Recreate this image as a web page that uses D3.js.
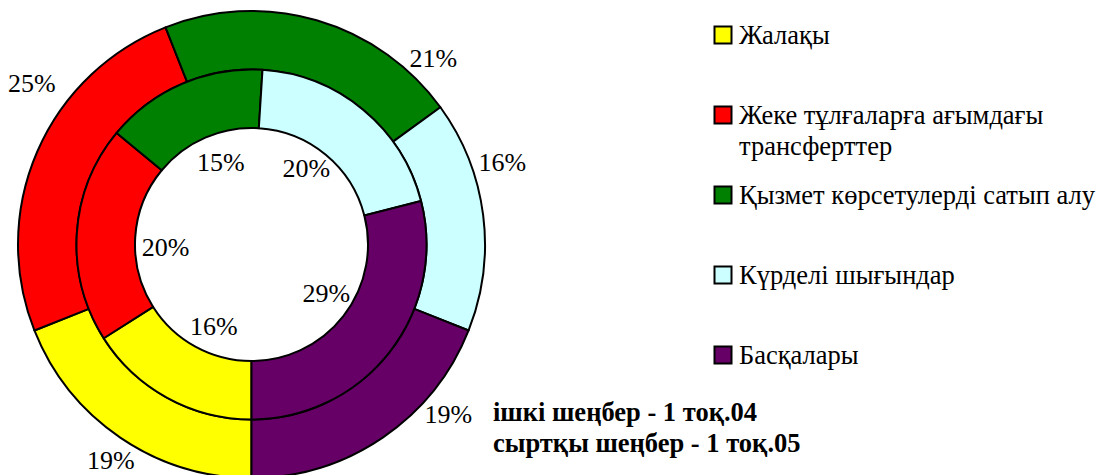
<!DOCTYPE html>
<html>
<head>
<meta charset="utf-8">
<script src="https://cdn.jsdelivr.net/npm/d3@7"></script>
<style>
  body { margin: 0; background: #fff; }
</style>
</head>
<body>
<div id="chart"></div>
<script>
// categories (legend order, clockwise from 6 o'clock)
var categories = [
  ["Жалақы"],
  ["Жеке тұлғаларға ағымдағы", "трансферттер"],
  ["Қызмет көрсетулерді сатып алу"],
  ["Күрделі шығындар"],
  ["Басқалары"]
];
// inner ring - 1 тоқ.04, outer ring - 1 тоқ.05 (percent)
var innerValues = [16, 20, 15, 20, 29];
var outerValues = [19, 25, 21, 16, 19];
var colors = ["#ffff00", "#ff0000", "#008000", "#ccffff", "#660066"];
var notes = ["ішкі шеңбер - 1 тоқ.04", "сыртқы шеңбер - 1 тоқ.05"];

// label nudges (degrees) to sit where the original chart put them
var outerLabelShift = [-1, 13, 28, -11, -15];
var innerLabelShift = [-4, -5, 3, -4, -5];

var svgWidth = 1098;
var svgHeight = 475;
var serif = "Liberation Serif";

var cx = 251.5, cy = 244.5;
var rOuter = 233.5, rMid = 175, rInner = 116.5;

var svg = d3.select("#chart")
  .append("svg")
  .attr("width", svgWidth)
  .attr("height", svgHeight);

var chartGroup = svg.append("g")
  .attr("transform", `translate(${cx}, ${cy})`);

var pie = d3.pie()
  .sort(null)
  .startAngle(Math.PI)
  .endAngle(3 * Math.PI);

var outerArc = d3.arc().innerRadius(rMid).outerRadius(rOuter);
var innerArc = d3.arc().innerRadius(rInner).outerRadius(rMid);

// rings
function drawRing(values, arc, cls) {
  chartGroup.append("g").selectAll("path." + cls)
    .data(pie(values))
    .enter()
    .append("path")
    .attr("class", cls)
    .attr("d", arc)
    .attr("fill", (d, i) => colors[i])
    .attr("stroke", "#000")
    .attr("stroke-width", 2)
    .attr("stroke-linejoin", "round");
}
drawRing(outerValues, outerArc, "outer");
drawRing(innerValues, innerArc, "inner");

// labels
function drawLabels(values, radius, shifts) {
  chartGroup.append("g").selectAll("text")
    .data(pie(values))
    .enter()
    .append("text")
    .attr("x", (d, i) => {
      var a = (d.startAngle + d.endAngle) / 2 + shifts[i] * Math.PI / 180;
      return radius[i] * Math.sin(a);
    })
    .attr("y", (d, i) => {
      var a = (d.startAngle + d.endAngle) / 2 + shifts[i] * Math.PI / 180;
      return -radius[i] * Math.cos(a);
    })
    .attr("text-anchor", "middle")
    .attr("dy", "0.35em")
    .attr("font-family", serif)
    .attr("font-size", 26)
    .attr("fill", "#000")
    .text(d => d.data + "%");
}
drawLabels(outerValues, [257, 273, 261, 264, 260], outerLabelShift);
drawLabels(innerValues, [90, 86, 88, 94, 89], innerLabelShift);

// legend
var legend = svg.append("g")
  .attr("transform", "translate(714, 0)");

var legendY = d3.scalePoint()
  .domain(d3.range(categories.length))
  .range([35, 355]);

var items = legend.selectAll("g.item")
  .data(categories)
  .enter()
  .append("g")
  .attr("class", "item")
  .attr("transform", (d, i) => `translate(0, ${legendY(i)})`);

items.append("rect")
  .attr("x", 0.5)
  .attr("y", -8.5)
  .attr("width", 17)
  .attr("height", 17)
  .attr("fill", (d, i) => colors[i])
  .attr("stroke", "#000")
  .attr("stroke-width", 2);

items.append("text")
  .attr("x", 25)
  .attr("y", 9)
  .attr("font-family", serif)
  .attr("font-size", 26.5)
  .attr("fill", "#000")
  .selectAll("tspan")
  .data(d => d)
  .enter()
  .append("tspan")
  .attr("x", 25)
  .attr("dy", (d, j) => j === 0 ? 0 : 31)
  .text(d => d);

// note
svg.append("text")
  .attr("x", 493)
  .attr("y", 421)
  .attr("font-family", serif)
  .attr("font-size", 26.5)
  .attr("font-weight", "bold")
  .attr("fill", "#000")
  .selectAll("tspan")
  .data(notes)
  .enter()
  .append("tspan")
  .attr("x", 493)
  .attr("dy", (d, j) => j === 0 ? 0 : 31)
  .text(d => d);
</script>
</body>
</html>
